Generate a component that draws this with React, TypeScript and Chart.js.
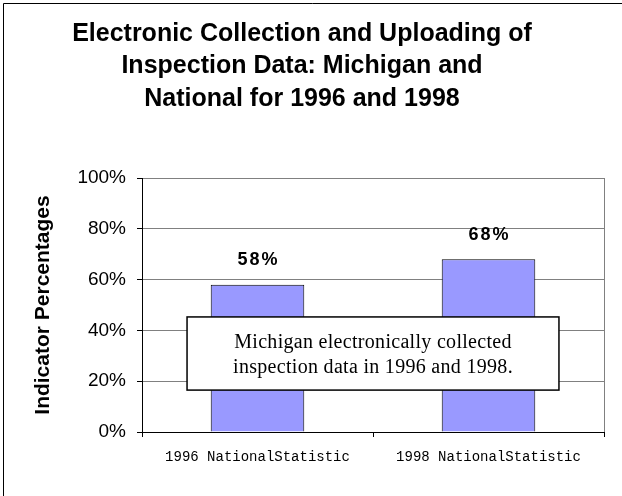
import React, { useEffect, useRef } from "react";
import { Chart, registerables } from "chart.js";

Chart.register(...registerables);

const TITLE_LINES = [
  "Electronic Collection and Uploading of",
  "Inspection Data: Michigan and",
  "National for 1996 and 1998",
];
const CATEGORIES = ["1996 NationalStatistic", "1998 NationalStatistic"];
const VALUES = [58, 68];
const VALUE_LABELS = ["58%", "68%"];
const Y_TICKS = [0, 20, 40, 60, 80, 100];
const Y_TITLE = "Indicator Percentages";
const NOTE_LINES = [
  "Michigan electronically collected",
  "inspection data in 1996 and 1998.",
];
// note box extent in scale units (category index, percent)
const NOTE_X = [-0.305, 1.305];
const NOTE_Y = [45.3, 16.5];

const overlayPlugin = {
  id: "overlay",
  beforeDraw(chart: any) {
    const ctx = chart.ctx;
    ctx.save();
    ctx.strokeStyle = "#000";
    ctx.lineWidth = 1;
    ctx.beginPath();
    ctx.moveTo(3.5, 496);
    ctx.lineTo(3.5, 3.5);
    ctx.lineTo(622, 3.5);
    ctx.stroke();
    ctx.restore();
  },
  afterDatasetsDraw(chart: any) {
    const ctx = chart.ctx;
    const area = chart.chartArea;
    const xs = chart.scales.x;
    const ys = chart.scales.y;
    ctx.save();
    // right plot border
    ctx.strokeStyle = "#808080";
    ctx.lineWidth = 1;
    ctx.beginPath();
    const rx = Math.round(area.right) + 0.5;
    ctx.moveTo(rx, area.top);
    ctx.lineTo(rx, area.bottom);
    ctx.stroke();

    // value labels
    const meta = chart.getDatasetMeta(0);
    ctx.fillStyle = "#000";
    ctx.font = "bold 18px 'Liberation Sans', Arial, sans-serif";
    ctx.textAlign = "center";
    ctx.textBaseline = "middle";
    try { ctx.letterSpacing = "2px"; } catch (e) {}
    meta.data.forEach((bar: any, i: number) => {
      ctx.fillText(VALUE_LABELS[i], bar.x + 1, bar.y - 24.5);
    });

    // note box
    const x0 = xs.getPixelForValue(NOTE_X[0]);
    const x1 = xs.getPixelForValue(NOTE_X[1]);
    const y0 = ys.getPixelForValue(NOTE_Y[0]);
    const y1 = ys.getPixelForValue(NOTE_Y[1]);
    ctx.fillStyle = "#fff";
    ctx.fillRect(x0, y0, x1 - x0, y1 - y0);
    ctx.strokeStyle = "#000";
    ctx.lineWidth = 1.5;
    ctx.strokeRect(x0, y0, x1 - x0, y1 - y0);
    ctx.fillStyle = "#000";
    ctx.font = "20px 'Liberation Serif', 'Times New Roman', serif";
    ctx.textAlign = "center";
    ctx.textBaseline = "alphabetic";
    try { ctx.letterSpacing = "0.3px"; } catch (e) {}
    const cx = (x0 + x1) / 2;
    NOTE_LINES.forEach((line, i) => {
      ctx.fillText(line, cx, y0 + 31 + i * 25);
    });
    try { ctx.letterSpacing = "0px"; } catch (e) {}
    ctx.restore();
  },
};

export default function App() {
  const canvasRef = useRef<HTMLCanvasElement | null>(null);

  useEffect(() => {
    if (!canvasRef.current) return;
    const chart = new Chart(canvasRef.current, {
      type: "bar",
      data: {
        labels: CATEGORIES,
        datasets: [
          {
            data: VALUES,
            backgroundColor: "#9999FF",
            borderColor: "#000000",
            borderWidth: 1,
            barPercentage: 0.405,
            categoryPercentage: 1,
          },
        ],
      },
      options: {
        animation: false,
        responsive: false,
        devicePixelRatio: 1,
        layout: { padding: { top: 0, left: 0, right: 18, bottom: 0 } },
        plugins: {
          legend: { display: false },
          tooltip: { enabled: false },
          title: {
            display: true,
            text: TITLE_LINES,
            color: "#000",
            font: {
              family: "'Liberation Sans', Arial, sans-serif",
              size: 25,
              weight: "bold",
              lineHeight: 32.5 / 25,
            },
            padding: { top: 17.75, bottom: 62.75 },
          },
        },
        scales: {
          x: {
            offset: true,
            grid: {
              display: true,
              drawOnChartArea: false,
              drawTicks: true,
              tickLength: 5,
              tickColor: "#000",
              offset: true,
            },
            border: { color: "#000", width: 1 },
            ticks: {
              color: "#000",
              autoSkip: false,
              maxRotation: 0,
              minRotation: 0,
              padding: 12,
              font: { family: "'Liberation Mono', 'Courier New', monospace", size: 14 },
            },
            afterFit(scale: any) {
              scale.height = 64;
            },
          },
          y: {
            min: Y_TICKS[0],
            max: Y_TICKS[Y_TICKS.length - 1],
            afterBuildTicks(scale: any) {
              scale.ticks = Y_TICKS.map((v) => ({ value: v }));
            },
            grid: {
              color: (c: any) => (c.tick && c.tick.value === 0 ? "#000" : "#808080"),
              lineWidth: 1,
              drawTicks: true,
              tickLength: 5,
              tickColor: "#000",
            },
            border: { color: "#000", width: 1 },
            ticks: {
              color: "#000",
              padding: 11,
              font: { family: "'Liberation Sans', Arial, sans-serif", size: 19 },
              callback: (v: any) => `${v}%`,
            },
            title: {
              display: true,
              text: Y_TITLE,
              color: "#000",
              font: { family: "'Liberation Sans', Arial, sans-serif", size: 21, weight: "bold" },
              padding: { top: 30.5, bottom: 0 },
            },
            afterFit(scale: any) {
              scale.width = 142;
            },
          },
        },
      },
      plugins: [overlayPlugin],
    });
    return () => chart.destroy();
  }, []);

  return (
    <div style={{ position: "fixed", left: 0, top: 0, width: 622, height: 496, background: "#fff" }}>
      <canvas ref={canvasRef} width={622} height={496} style={{ display: "block" }} />
    </div>
  );
}
